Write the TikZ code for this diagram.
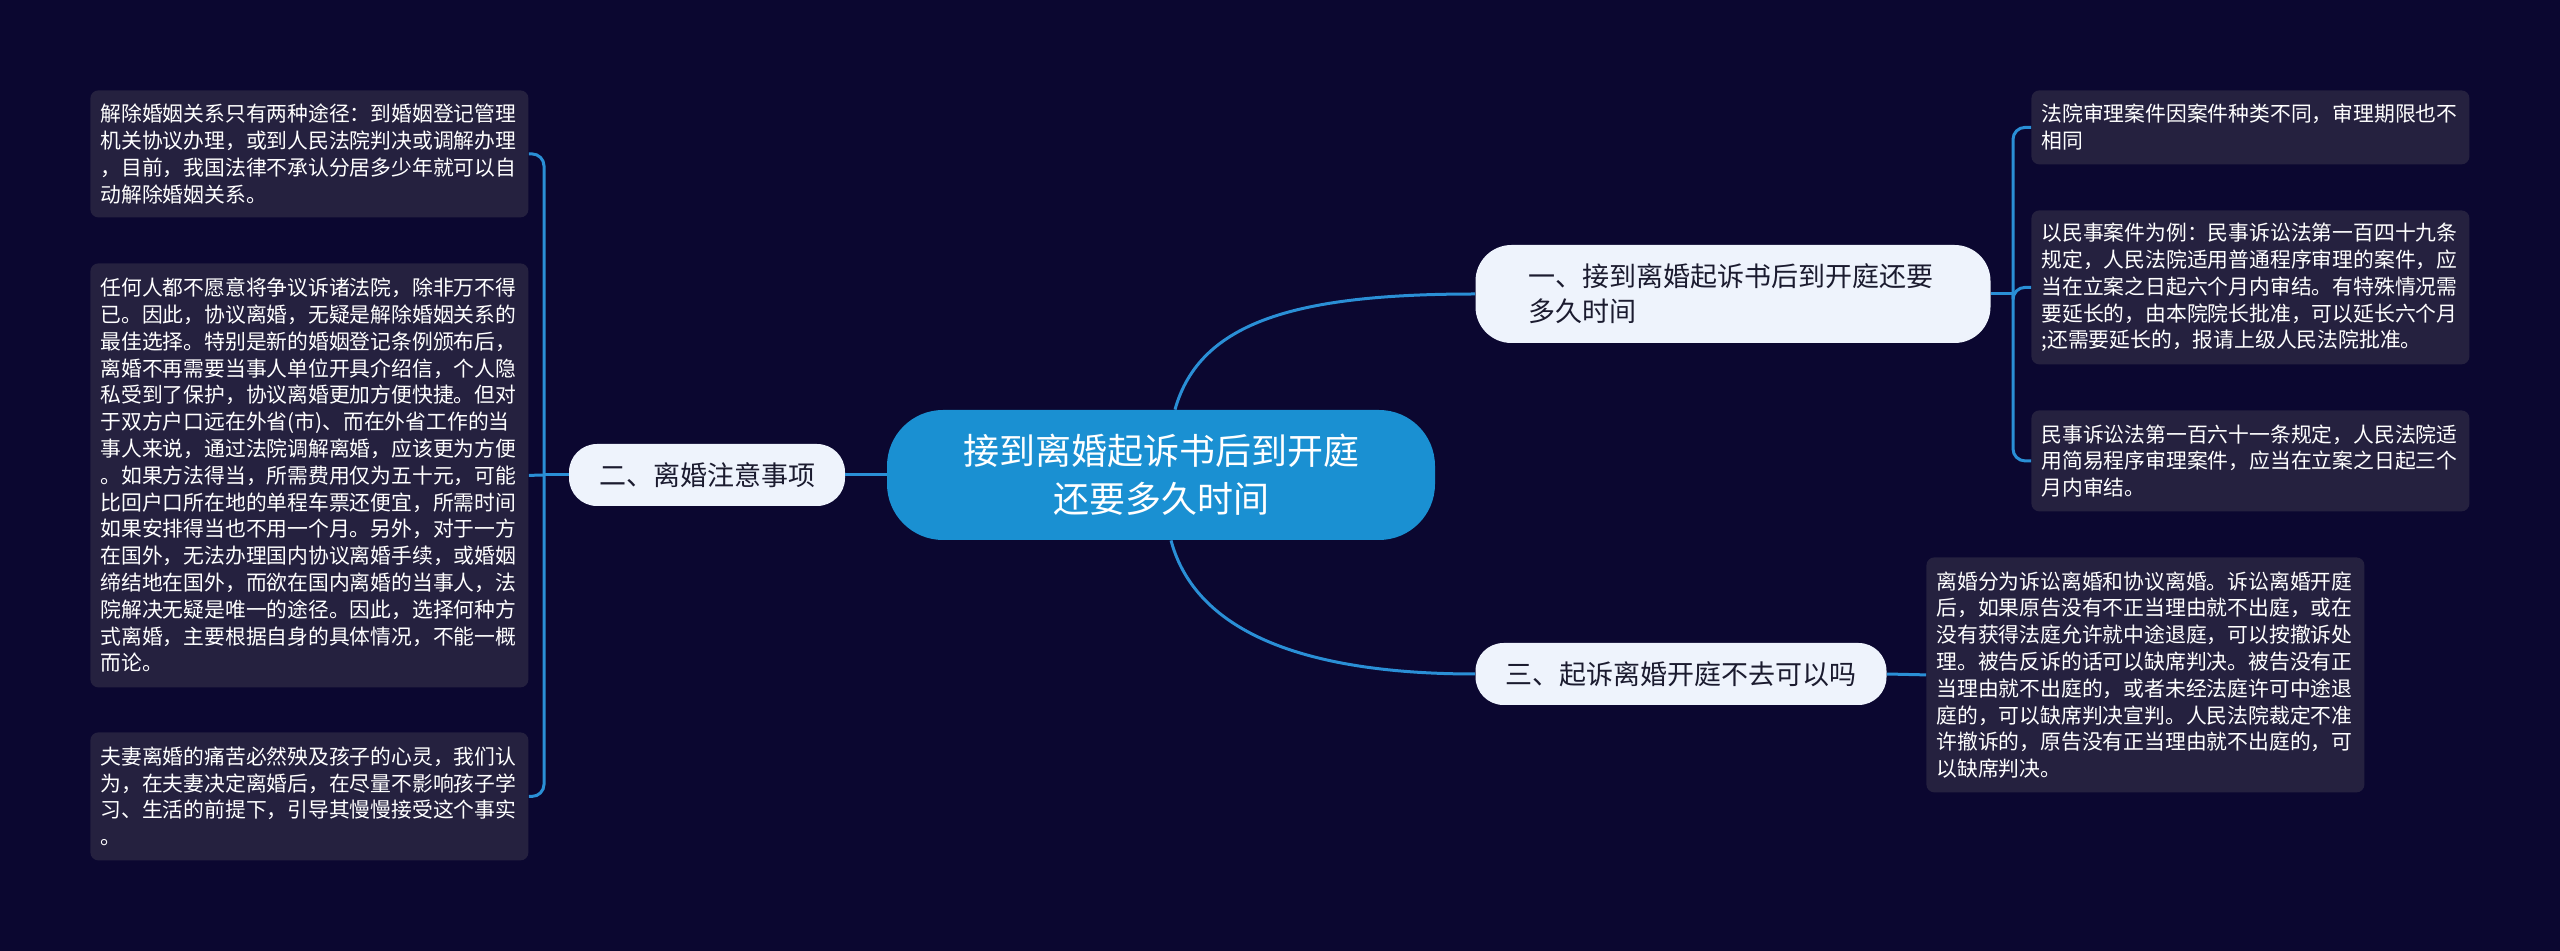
\documentclass[tikz,border=0pt]{standalone}
\usepackage{fontspec}
\setmainfont{Noto Sans CJK SC}
\definecolor{bgnavy}{HTML}{0B0730}
\definecolor{rootblue}{HTML}{1A90D2}
\definecolor{linkblue}{HTML}{2A8FD6}
\definecolor{leafgray}{HTML}{25213F}
\definecolor{branchwhite}{HTML}{EEF3FC}
\definecolor{branchtext}{HTML}{1B1B2F}
\begin{document}
\begin{tikzpicture}[x=0.5pt,y=-0.5pt,
  link/.style={draw=linkblue, line width=1.5pt},
  leaf/.style={fill=leafgray, rounded corners=4pt, text=white, anchor=north west,
    text width=209pt, inner xsep=5pt, inner ysep=0pt, align=left,
    font=\fontsize{10.4pt}{13.4pt}\selectfont},
  branch/.style={fill=branchwhite, rounded corners=14pt, text=branchtext,
    align=left, inner sep=0pt, font=\fontsize{13.5pt}{17.5pt}\selectfont},
  root/.style={fill=rootblue, rounded corners=28pt, text=white, align=center,
    inner sep=0pt, font=\fontsize{18pt}{24pt}\selectfont}]
  \fill[bgnavy] (0,0) rectangle (2560,951);
  \useasboundingbox (0,0) rectangle (2560,951);

  \node[root, minimum width=274pt, minimum height=65pt] (main) at (1161,475)
    {接到离婚起诉书后到开庭\\还要多久时间};
  \node[branch, rounded corners=18pt, minimum width=257.5pt, minimum height=49pt, text width=205pt] (one) at (1733,294)
    {一、接到离婚起诉书后到开庭还要\\多久时间};
  \node[branch, minimum width=138pt, minimum height=31pt] (two) at (707,475)
    {二、离婚注意事项};
  \node[branch, minimum width=205.5pt, minimum height=31pt] (three) at (1681,674)
    {三、起诉离婚开庭不去可以吗};

  \node[leaf, minimum height=63.5pt] (marry) at (90,90)
    {解除婚姻关系只有两种途径：到婚姻登记管理\\机关协议办理，或到人民法院判决或调解办理\\，目前，我国法律不承认分居多少年就可以自\\动解除婚姻关系。};
  \node[leaf, minimum height=212pt] (agree) at (90,263)
    {任何人都不愿意将争议诉诸法院，除非万不得\\已。因此，协议离婚，无疑是解除婚姻关系的\\最佳选择。特别是新的婚姻登记条例颁布后，\\离婚不再需要当事人单位开具介绍信，个人隐\\私受到了保护，协议离婚更加方便快捷。但对\\于双方户口远在外省(市)、而在外省工作的当\\事人来说，通过法院调解离婚，应该更为方便\\。如果方法得当，所需费用仅为五十元，可能\\比回户口所在地的单程车票还便宜，所需时间\\如果安排得当也不用一个月。另外，对于一方\\在国外，无法办理国内协议离婚手续，或婚姻\\缔结地在国外，而欲在国内离婚的当事人，法\\院解决无疑是唯一的途径。因此，选择何种方\\式离婚，主要根据自身的具体情况，不能一概\\而论。};
  \node[leaf, minimum height=64pt] (child) at (90,732)
    {夫妻离婚的痛苦必然殃及孩子的心灵，我们认\\为，在夫妻决定离婚后，在尽量不影响孩子学\\习、生活的前提下，引导其慢慢接受这个事实\\。};

  \node[leaf, minimum height=37pt] (kind) at (2031,90)
    {法院审理案件因案件种类不同，审理期限也不\\相同};
  \node[leaf, minimum height=77pt] (civil) at (2031,210)
    {以民事案件为例：民事诉讼法第一百四十九条\\规定，人民法院适用普通程序审理的案件，应\\当在立案之日起六个月内审结。有特殊情况需\\要延长的，由本院院长批准，可以延长六个月\\;还需要延长的，报请上级人民法院批准。};
  \node[leaf, minimum height=50.5pt] (simple) at (2031,410)
    {民事诉讼法第一百六十一条规定，人民法院适\\用简易程序审理案件，应当在立案之日起三个\\月内审结。};
  \node[leaf, minimum height=117.5pt] (absent) at (1926,557)
    {离婚分为诉讼离婚和协议离婚。诉讼离婚开庭\\后，如果原告没有不正当理由就不出庭，或在\\没有获得法庭允许就中途退庭，可以按撤诉处\\理。被告反诉的话可以缺席判决。被告没有正\\当理由就不出庭的，或者未经法庭许可中途退\\庭的，可以缺席判决宣判。人民法院裁定不准\\许撤诉的，原告没有正当理由就不出庭的，可\\以缺席判决。};

  \coordinate (twoJoin) at (544,475);
  \coordinate (oneJoin) at (2013,294);

  \draw[link] ([xshift=7pt]main.north) .. controls (1200,320) and (1300,294) .. (one.west);
  \draw[link] ([xshift=5pt]main.south) .. controls (1195,630) and (1300,674) .. (three.west);
  \draw[link] (main.west) -- (two.east);
  \draw[link] (two.west) -- (twoJoin);
  \draw[link, rounded corners=6pt] (twoJoin) |- (marry.east);
  \draw[link] (twoJoin) -- (agree.east);
  \draw[link, rounded corners=6pt] (twoJoin) |- (child.east);
  \draw[link] (one.east) -- (oneJoin);
  \draw[link, rounded corners=6pt] (oneJoin) |- (kind.west);
  \draw[link, rounded corners=6pt] (oneJoin) |- (civil.west);
  \draw[link, rounded corners=6pt] (oneJoin) |- (simple.west);
  \draw[link] (three.east) -- (absent.west);
\end{tikzpicture}
\end{document}
